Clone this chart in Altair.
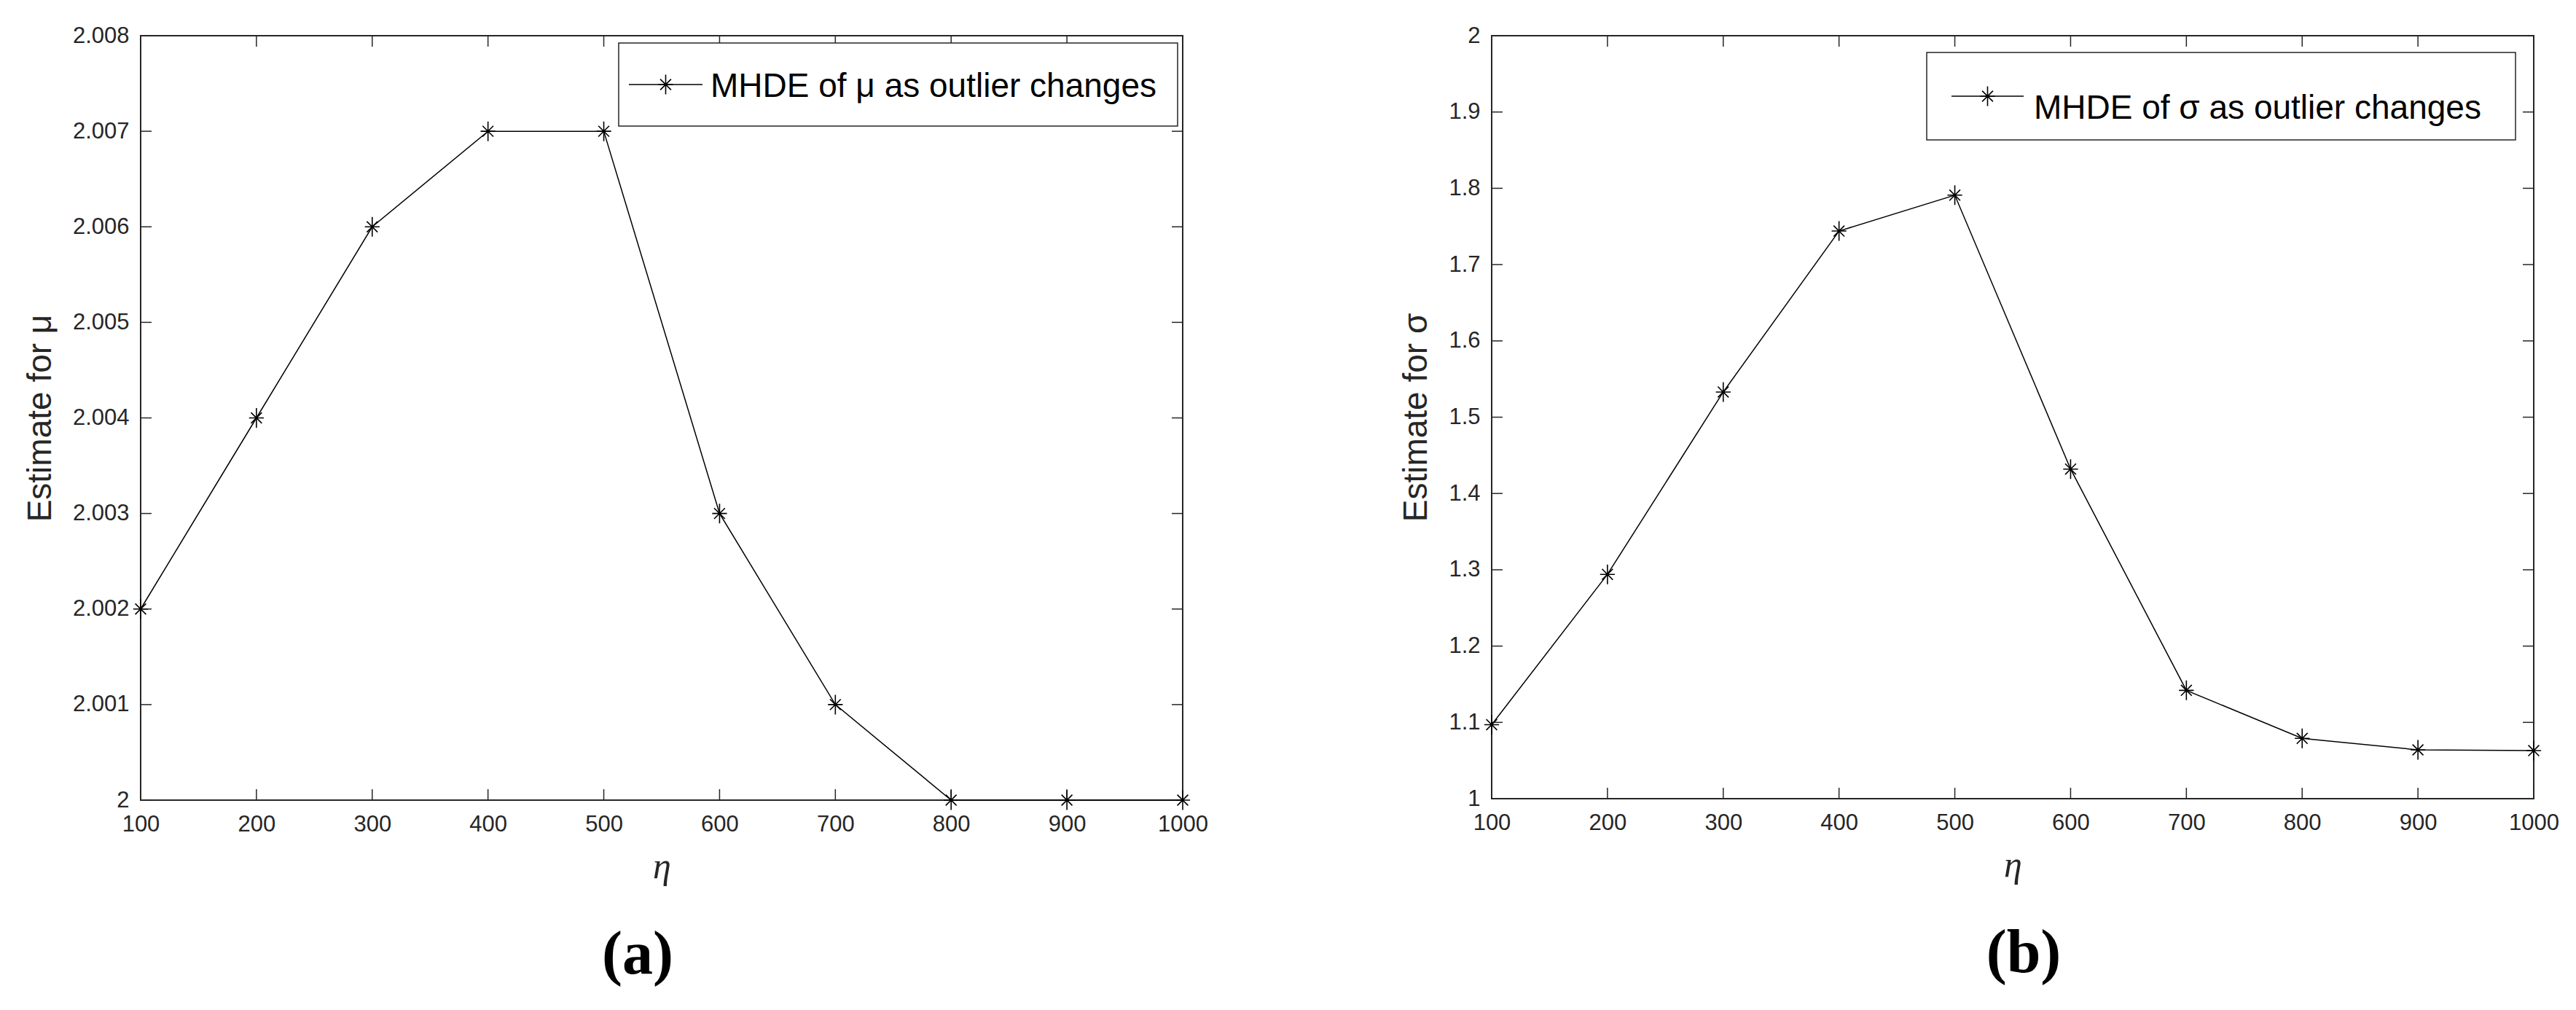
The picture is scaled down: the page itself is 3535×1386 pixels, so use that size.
import altair as alt
import pandas as pd

# ---------------- data ----------------
eta = [100, 200, 300, 400, 500, 600, 700, 800, 900, 1000]
mu_est = [2.002, 2.004, 2.006, 2.007, 2.007, 2.003, 2.001, 2.000, 2.000, 2.000]
sigma_est = [1.097, 1.294, 1.533, 1.744, 1.791, 1.432, 1.142, 1.079, 1.064, 1.063]

x_ticks = [100, 200, 300, 400, 500, 600, 700, 800, 900, 1000]
mu_ticks = [2.000, 2.001, 2.002, 2.003, 2.004, 2.005, 2.006, 2.007, 2.008]
sigma_ticks = [1.0, 1.1, 1.2, 1.3, 1.4, 1.5, 1.6, 1.7, 1.8, 1.9, 2.0]

legend_mu = "MHDE of μ as outlier changes"
legend_sigma = "MHDE of σ as outlier changes"
ytitle_mu = "Estimate for μ"
ytitle_sigma = "Estimate for σ"
xtitle = "η"

AX = "#262626"
FONT = "Liberation Sans"
SERIF = "Liberation Serif"
ASTER = "M0,-1L0,1M-0.75,0L0.75,0M-0.55,-0.55L0.55,0.55M-0.55,0.55L0.55,-0.55"

W = 1430


def panel(values, yticks, ytitle, legend_text, tag, H, leg, tag_x):
    df = pd.DataFrame({"eta": eta, "est": values})
    xs = alt.Scale(domain=[100, 1000], nice=False, zero=False)
    ys = alt.Scale(domain=[yticks[0], yticks[-1]], nice=False, zero=False)
    xaxis = alt.Axis(values=x_ticks, format="d", title=xtitle, ticks=False, domain=False,
                     grid=False, labelFont=FONT, labelFontSize=31, labelColor=AX,
                     labelPadding=18, labelFlush=False, labelOverlap=False,
                     titleFont=SERIF, titleFontStyle="italic",
                     titleFontWeight="normal", titleFontSize=50, titleColor=AX,
                     titlePadding=18)
    yaxis = alt.Axis(values=yticks, format=".4~g", title=ytitle, ticks=False, domain=False,
                     grid=False, labelFont=FONT, labelFontSize=31, labelColor=AX,
                     labelPadding=16, labelFlush=False, labelOverlap=False,
                     titleFont=FONT, titleFontSize=46,
                     titleFontWeight="normal", titleColor=AX, titlePadding=20)

    line = alt.Chart(df).mark_line(color="black", strokeWidth=1.5).encode(
        x=alt.X("eta:Q", scale=xs, axis=xaxis),
        y=alt.Y("est:Q", scale=ys, axis=yaxis),
    )
    pts = alt.Chart(df).mark_point(shape=ASTER, filled=False, color="black",
                                   strokeWidth=1.6, size=729, opacity=1).encode(
        x="eta:Q", y="est:Q")

    ydf = pd.DataFrame({"est": yticks})
    xdf = pd.DataFrame({"eta": x_ticks})
    tl = alt.Chart(ydf).mark_rule(color=AX, strokeWidth=1.5).encode(
        y="est:Q", x=alt.value(0), x2=alt.value(15))
    tr = alt.Chart(ydf).mark_rule(color=AX, strokeWidth=1.5).encode(
        y="est:Q", x=alt.value(W - 15), x2=alt.value(W))
    tb = alt.Chart(xdf).mark_rule(color=AX, strokeWidth=1.5).encode(
        x="eta:Q", y=alt.value(H - 15), y2=alt.value(H))
    tt = alt.Chart(xdf).mark_rule(color=AX, strokeWidth=1.5).encode(
        x="eta:Q", y=alt.value(0), y2=alt.value(15))

    one = pd.DataFrame({"t": [legend_text]})
    x0, x1, y0, y1, lx0, lx1, tx, base = leg
    ymid = (y0 + y1) / 2
    box = alt.Chart(one).mark_rect(fill="white", stroke=AX, strokeWidth=1.5).encode(
        x=alt.value(x0), x2=alt.value(x1), y=alt.value(y0), y2=alt.value(y1))
    lline = alt.Chart(one).mark_rule(color="black", strokeWidth=1.5).encode(
        x=alt.value(lx0), x2=alt.value(lx1), y=alt.value(ymid))
    lpt = alt.Chart(one).mark_point(shape=ASTER, filled=False, color="black",
                                    strokeWidth=1.6, size=729, opacity=1).encode(
        x=alt.value((lx0 + lx1) / 2), y=alt.value(ymid))
    ltxt = alt.Chart(one).mark_text(font=FONT, fontSize=46, color="black", align="left",
                                    baseline="alphabetic").encode(
        text="t:N", x=alt.value(tx), y=alt.value(base))

    tagdf = pd.DataFrame({"t": [tag]})
    tagm = alt.Chart(tagdf).mark_text(font=SERIF, fontSize=84, fontWeight="bold",
                                      color="black", align="center",
                                      baseline="alphabetic").encode(
        text="t:N", x=alt.value(tag_x), y=alt.value(H + 238))

    return alt.layer(tl, tr, tb, tt, line, pts, box, lline, lpt, ltxt, tagm).properties(
        width=W, height=H)


left = panel(mu_est, mu_ticks, ytitle_mu, legend_mu, "(a)", 1049,
             (656, 1423, 10, 124, 670, 771, 782, 84), 682)
right = panel(sigma_est, sigma_ticks, ytitle_sigma, legend_sigma, "(b)", 1047,
              (597, 1405, 23, 143, 631, 730, 744, 114), 730)

chart = alt.hconcat(left, right, spacing=260).properties(
    padding={"left": 23, "top": 24, "right": 0, "bottom": 0},
    background="white",
).configure_view(stroke=AX, strokeWidth=2)

chart.save("out.html", embed_options={"renderer": "svg", "actions": False})
